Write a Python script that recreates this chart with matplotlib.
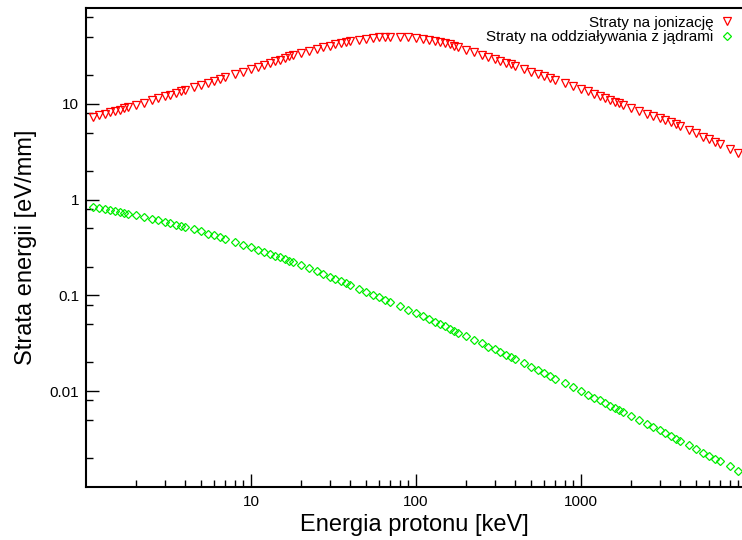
import matplotlib
matplotlib.use("Agg")
import matplotlib.pyplot as plt
from matplotlib.ticker import FixedLocator, NullFormatter, FixedFormatter

plt.rcParams['font.family'] = ['Liberation Sans', 'DejaVu Sans']

energy_kev = [1.1, 1.2, 1.3, 1.4, 1.5, 1.6, 1.7, 1.8, 2.0, 2.25, 2.5, 2.75, 3.0, 3.25, 3.5, 3.75,
              4.0, 4.5, 5.0, 5.5, 6.0, 6.5, 7.0, 8.0, 9.0, 10, 11, 12, 13, 14, 15, 16, 17, 18,
              20, 22.5, 25, 27.5, 30, 32.5, 35, 37.5, 40, 45, 50, 55, 60, 65, 70, 80, 90,
              100, 110, 120, 130, 140, 150, 160, 170, 180, 200, 225, 250, 275, 300, 325, 350,
              375, 400, 450, 500, 550, 600, 650, 700, 800, 900, 1000, 1100, 1200, 1300, 1400,
              1500, 1600, 1700, 1800, 2000, 2250, 2500, 2750, 3000, 3250, 3500, 3750, 4000,
              4500, 5000, 5500, 6000, 6500, 7000, 8000, 9000]

ionization = [7.3, 7.6, 7.9, 8.2, 8.45, 8.7, 9.0, 9.25, 9.6, 10.23, 10.83, 11.4, 11.95, 12.48, 12.99, 13.48,
              13.96, 14.87, 15.77, 16.6, 17.4, 18.2, 18.9, 20.3, 21.7, 23.0, 24.3, 25.6, 26.8, 27.9, 29.0, 30.1, 31.2, 32.2,
              34.0, 35.9, 37.6, 39.1, 40.6, 41.9, 43.0, 44.0, 45.0, 46.6, 47.8, 48.8, 49.5, 49.9, 50.1, 50.1, 49.6,
              48.4, 47.3, 46.2, 45.1, 44.0, 42.8, 41.6, 40.5, 39.5, 36.8, 34.6, 32.5, 30.7, 29.2, 27.9, 26.8,
              25.8, 25.0, 23.2, 21.7, 20.4, 19.3, 18.5, 17.7, 16.5, 15.3, 14.3, 13.5, 12.8, 12.1, 11.5,
              11.0, 10.5, 10.1, 9.7, 9.05, 8.45, 7.9, 7.45, 7.05, 6.7, 6.4, 6.1, 5.85,
              5.3, 4.9, 4.55, 4.25, 4.0, 3.78, 3.38, 3.08]

nuclear = [0.831, 0.810, 0.790, 0.773, 0.755, 0.740, 0.726, 0.715, 0.690, 0.660, 0.633, 0.607, 0.587, 0.565, 0.549, 0.533,
           0.521, 0.491, 0.465, 0.441, 0.422, 0.403, 0.387, 0.361, 0.337, 0.317, 0.299, 0.284, 0.271, 0.258, 0.249, 0.238, 0.230, 0.222,
           0.208, 0.192, 0.178, 0.166, 0.157, 0.148, 0.1406, 0.134, 0.1284, 0.1179, 0.1092, 0.1018, 0.0955, 0.0901, 0.0854, 0.0775, 0.0707,
           0.0652, 0.0605, 0.0565, 0.0531, 0.0501, 0.0475, 0.0451, 0.0428, 0.0408, 0.0377, 0.0343, 0.0315, 0.0292, 0.0273, 0.0256, 0.0241,
           0.0228, 0.0217, 0.0197, 0.0180, 0.0166, 0.0154, 0.0144, 0.01356, 0.01213, 0.01094, 0.0100, 0.00922, 0.00856, 0.0080, 0.00751,
           0.00708, 0.00671, 0.00637, 0.00607, 0.00555, 0.00501, 0.00457, 0.00421, 0.00390, 0.00362, 0.00339, 0.00319, 0.00302,
           0.00272, 0.00248, 0.00228, 0.00211, 0.00197, 0.00185, 0.00164, 0.00148]

label_ion = "Straty na jonizację"
label_nuc = "Straty na oddziaływania z jądrami"
xlabel = "Energia protonu [keV]"
ylabel = "Strata energii [eV/mm]"
x_major = [10, 100, 1000]
x_major_labels = ["10", "100", "1000"]
y_major = [0.01, 0.1, 1, 10]
y_major_labels = ["0.01", "0.1", "1", "10"]

fig = plt.figure(figsize=(7.42, 5.40), dpi=100)
ax = fig.add_axes([86 / 742, 53 / 540, 1 - 86 / 742, 479 / 540])

ax.plot(energy_kev, ionization, linestyle='none', marker='v', markersize=5.8,
        markerfacecolor='none', markeredgecolor='#ff0000', markeredgewidth=0.9, label=label_ion)
ax.plot(energy_kev, nuclear, linestyle='none', marker='D', markersize=4.0,
        markerfacecolor='none', markeredgecolor='#00ee00', markeredgewidth=0.9, label=label_nuc)

ax.set_xscale('log')
ax.set_yscale('log')
ax.set_xlim(1, 9480)
ax.set_ylim(0.001, 100)

# ticks
ax.xaxis.set_major_locator(FixedLocator(x_major))
ax.xaxis.set_major_formatter(FixedFormatter(x_major_labels))
xminor = []
for dec in [1, 10, 100, 1000]:
    for m in range(2, 10):
        xminor.append(dec * m)
ax.xaxis.set_minor_locator(FixedLocator(xminor))
ax.xaxis.set_minor_formatter(NullFormatter())

ax.yaxis.set_major_locator(FixedLocator(y_major))
ax.yaxis.set_major_formatter(FixedFormatter(y_major_labels))
yminor = []
for dec in [0.001, 0.01, 0.1, 1, 10]:
    for m in (2, 5, 8):
        yminor.append(dec * m)
ax.yaxis.set_minor_locator(FixedLocator(yminor))
ax.yaxis.set_minor_formatter(NullFormatter())

ax.tick_params(which='both', direction='in', top=False, right=False, color='black')
ax.tick_params(which='major', length=9.5, width=1.0, labelsize=11, pad=5)
ax.tick_params(which='minor', length=5, width=1.0)
ax.tick_params(axis='x', which='major', pad=6)

for side in ['left', 'bottom', 'top']:
    ax.spines[side].set_linewidth(1.5)
ax.spines['right'].set_visible(False)

ax.set_xlabel(xlabel, fontsize=17, labelpad=3)
ax.set_ylabel(ylabel, fontsize=17, labelpad=9)

ax.legend(loc='upper right', frameon=False, markerfirst=False, fontsize=11,
          handlelength=1.0, handletextpad=0.35, labelspacing=0.05,
          borderaxespad=0.1, bbox_to_anchor=(1.0, 1.0))

fig.savefig('out.png', dpi=100)
